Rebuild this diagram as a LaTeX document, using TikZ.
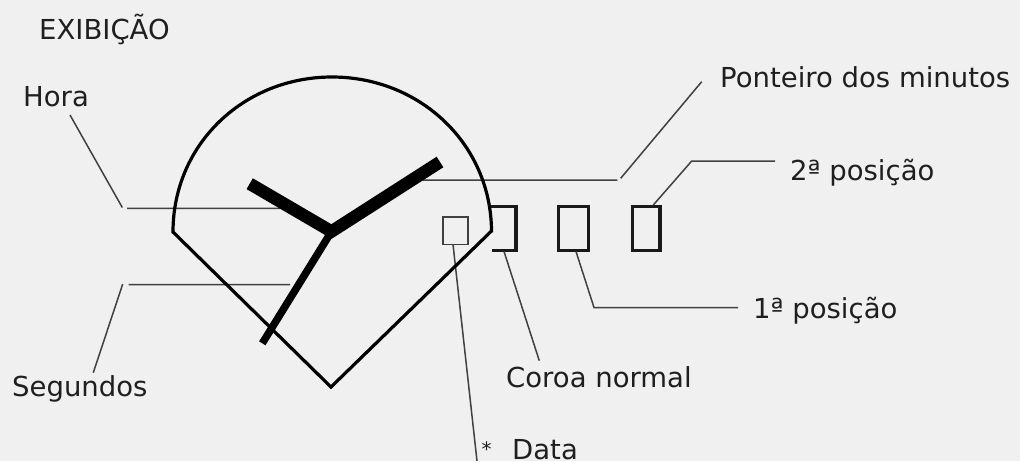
\documentclass[tikz,border=0pt]{standalone}
\usepackage{fontspec}
\setmainfont{DejaVu Sans}
\tikzset{
  lbl/.style={anchor=base west,inner sep=0pt,text=black!88,font=\fontsize{27.5}{32}\selectfont},
  leader/.style={draw=black!75,line width=1.5pt},
  frame/.style={draw=black,line width=3.2pt,line join=miter},
  crown/.style={draw=black!90,line width=3.1pt},
  small/.style={draw=black!75,line width=1.5pt},
}
\begin{document}
\begin{tikzpicture}[x=1pt,y=-1pt]
\fill[fill=black!6] (0,0) rectangle (1020,461);
\useasboundingbox (0,0) rectangle (1020,461);
% labels
\node[lbl] (title) at (39,39) {EXIBIÇÃO};
\node[lbl] (hora) at (23,106) {Hora};
\node[lbl] (seg) at (12,396) {Segundos};
\node[lbl] (pont) at (720,87) {Ponteiro dos minutos};
\node[lbl] (p2) at (790,180) {2ª posição};
\node[lbl] (p1) at (753,318) {1ª posição};
\node[lbl] (cor) at (506,387) {Coroa normal};
\node[lbl,font=\fontsize{20}{24}\selectfont] (star) at (481.5,456) {*};
\node[lbl] (dat) at (512,459) {Data};
% named points
\coordinate (c) at (331.5,231.5);
\coordinate (L) at (173,232);
\coordinate (R) at (491.5,231);
\coordinate (B) at (331,387);
\coordinate (mh) at (440,162);
\coordinate (hh) at (249.7,183.7);
\coordinate (sh) at (262.3,343.3);
% crown positions
\node[minimum width=25pt,minimum height=27.5pt,inner sep=0pt,small] (date) at (455.5,230.5) {};
\node[minimum width=29.7pt,minimum height=43.7pt,inner sep=0pt,crown] (r1) at (573.6,228.4) {};
\node[minimum width=27.5pt,minimum height=43.7pt,inner sep=0pt,crown] (r2) at (646.2,228.4) {};
\coordinate (r0a) at (490,206.6);
\coordinate (r0b) at (516,206.6);
\coordinate (r0c) at (516,250.2);
\coordinate (r0d) at (491.7,250.2);
\draw[crown] (r0a) -- (r0b) -- (r0c) -- (r0d);
% leaders
\coordinate (h1) at (70,115); \coordinate (h2) at (122.3,207.5);
\coordinate (h3) at (127,208.3); \coordinate (h4) at (280,208.3);
\draw[leader] (h1) -- (h2) (h3) -- (h4);
\coordinate (s1) at (93.3,372.7); \coordinate (s2) at (122.7,284);
\coordinate (s3) at (128.7,284.7); \coordinate (s4) at (290,284.7);
\draw[leader] (s1) -- (s2) (s3) -- (s4);
\coordinate (m1) at (423,180); \coordinate (m2) at (617.3,180);
\coordinate (m4) at (620.7,178.3); \coordinate (m3) at (701.7,81.7);
\draw[leader] (m1) -- (m2) (m4) -- (m3);
\coordinate (a1) at (653.3,205); \coordinate (a2) at (691.7,161); \coordinate (a3) at (775,161);
\draw[leader] (a1) -- (a2) -- (a3);
\coordinate (b1) at (576,251.5); \coordinate (b2) at (594,307.5); \coordinate (b3) at (738,307.5);
\draw[leader] (b1) -- (b2) -- (b3);
\coordinate (d1) at (504,251.5); \coordinate (d2) at (539.3,360.7);
\draw[leader] (d1) -- (d2);
\coordinate (e1) at (453,244.3);
\coordinate (e2) at (477,461);
\draw[leader] (e1) -- (e2);
% dial
\draw[frame] (L) .. controls (173,144) and (244,77) .. (332,77) .. controls (420,77) and (491,144) .. (R) -- (B) -- cycle;
% hands
\draw[black,line width=12.5pt] (mh) -- (c) -- (hh);
\draw[black,line width=7.5pt] (c) -- (sh);
\end{tikzpicture}
\end{document}
